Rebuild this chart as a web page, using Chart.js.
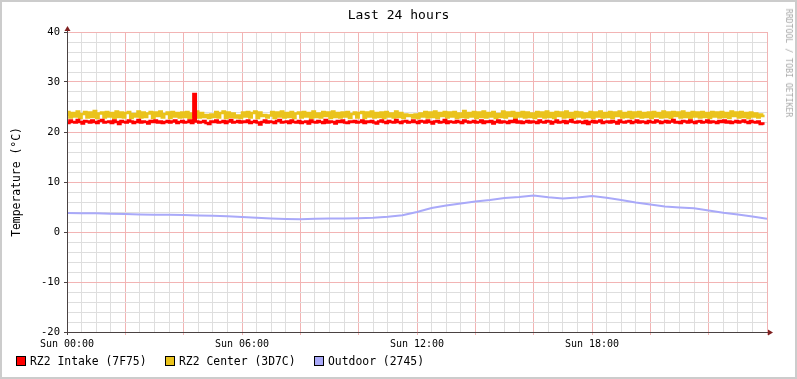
<!DOCTYPE html>
<html>
<head>
<meta charset="utf-8">
<script src="https://cdn.jsdelivr.net/npm/chart.js@4/dist/chart.umd.min.js"></script>
<style>
html,body{margin:0;padding:0;background:#fff;}
#wrap{position:relative;width:797px;height:379px;overflow:hidden;background:#fff;font-family:'DejaVu Sans Mono',monospace;}
#frame{position:absolute;left:0;top:0;width:797px;height:379px;box-sizing:border-box;border:2px solid #CCCCCC;pointer-events:none;}
#c{position:absolute;left:0;top:0;}
.t{position:absolute;white-space:nowrap;color:#000;}
#title{left:0;width:797px;top:7px;text-align:center;font-size:13px;}
#ytitle{left:16px;top:182px;font-size:11.4px;transform:translate(-50%,-50%) rotate(-90deg);}
#wm{left:789px;top:63px;font-size:8.2px;color:#A8A8A8;transform:translate(-50%,-50%) rotate(90deg);}
.sw{position:absolute;width:8px;height:8px;border:1px solid #000;top:356px;}
.lg{position:absolute;top:354px;font-size:11.4px;line-height:14px;}
</style>
</head>
<body>
<div id="wrap">
<canvas id="c" width="797" height="379"></canvas>
<div class="t" id="title">Last 24 hours</div>
<div class="t" id="ytitle">Temperature (°C)</div>
<div class="t" id="wm">RRDTOOL / TOBI OETIKER</div>
<div id="legend"></div>
<div id="frame"></div>
</div>
<script>
// Series names
const seriesNames = ['RZ2 Intake (7F75)', 'RZ2 Center (3D7C)', 'Outdoor (2745)'];
const seriesColors = ['#FF0000', '#EAC31C', '#A9A9F9'];

// 5-minute samples over 24 h (288 values)
const intake = [
22.1,21.8,22.3,22.0,21.9,22.4,22.0,21.7,22.2,22.1,21.9,22.3,22.0,21.8,22.2,22.4,21.9,22.0,22.1,21.8,22.3,22.0,21.6,22.2,
22.0,21.9,22.3,22.1,21.8,22.0,22.4,21.9,22.1,22.0,21.7,22.2,22.0,22.3,21.9,22.1,21.8,22.0,22.2,21.9,22.1,22.3,21.8,22.0,
22.2,21.9,22.0,22.3,21.8,27.6,22.1,21.9,22.0,22.2,21.8,21.6,22.1,22.0,22.3,21.9,22.0,22.2,21.8,22.1,22.4,21.9,22.0,22.2,
21.9,22.1,22.0,22.3,21.8,22.0,22.2,21.9,21.5,22.0,22.3,21.9,22.1,22.0,21.8,22.2,22.4,21.9,22.0,22.1,21.8,22.3,22.0,21.9,
22.2,21.8,22.0,22.1,21.7,22.3,22.0,21.9,22.2,22.0,21.8,22.4,21.9,22.1,22.0,21.7,22.2,22.0,22.3,21.9,21.8,22.1,22.0,22.2,
21.9,22.0,22.3,21.8,22.1,22.0,22.2,21.9,21.7,22.1,22.3,22.0,21.8,22.2,22.0,21.9,22.4,22.0,21.8,22.1,22.2,21.9,22.0,22.3,
22.0,21.8,22.2,22.1,21.9,22.3,22.0,21.7,22.1,22.2,21.9,22.0,22.4,21.8,22.1,22.0,21.9,22.2,22.0,21.8,22.3,22.1,21.9,22.0,
22.2,21.9,22.0,22.3,21.8,22.1,22.0,22.2,21.7,22.0,22.3,21.9,22.1,22.0,21.8,22.2,22.0,22.4,21.9,22.1,21.8,22.0,22.2,21.9,
22.1,22.0,21.8,22.3,22.0,21.9,22.2,22.1,21.7,22.0,22.3,21.9,22.0,22.2,21.8,22.1,22.4,22.0,21.9,22.1,22.0,21.8,22.2,21.6,
22.0,22.2,21.9,22.1,22.3,21.8,22.0,22.1,21.9,22.2,22.0,21.7,22.3,22.0,21.9,22.1,22.2,21.8,22.0,22.3,21.9,22.1,22.0,21.8,
22.2,22.0,21.9,22.3,22.1,21.8,22.0,22.2,21.9,22.1,22.4,21.9,22.0,21.8,22.2,22.1,21.9,22.3,22.0,21.8,22.1,22.2,21.9,22.0,
22.3,21.9,22.1,22.0,21.8,22.2,22.0,22.3,21.9,22.1,21.8,22.0,22.2,21.9,22.1,22.3,22.0,21.8,22.2,22.0,21.9,22.1,21.6,21.7
];
const center = [
23.2,24.0,22.9,23.8,23.1,24.1,22.8,23.6,24.0,22.9,23.9,23.0,24.2,22.8,23.7,23.9,22.9,24.0,23.1,23.8,22.8,24.1,23.0,23.9,
22.9,23.8,24.0,22.8,23.6,23.1,24.1,22.9,23.9,23.0,23.7,24.0,22.8,23.9,23.2,24.1,22.9,23.6,23.9,22.8,24.0,23.1,23.8,22.9,
23.9,23.0,24.0,22.8,23.7,23.1,24.1,22.9,23.8,23.0,23.4,22.8,23.5,23.0,24.0,22.9,23.8,24.1,22.8,23.9,23.0,23.7,22.9,23.3,
22.8,23.9,23.1,24.0,22.9,23.8,24.1,22.8,23.9,23.2,23.4,22.9,23.3,24.0,22.8,23.9,23.1,24.1,22.9,23.8,23.0,24.0,22.8,23.7,
23.9,22.9,24.0,23.1,23.8,22.8,24.1,23.0,23.7,22.9,24.0,23.2,23.9,22.8,24.1,23.0,23.8,22.9,23.9,23.1,24.0,22.8,23.6,23.9,
22.9,23.8,24.0,22.8,23.9,23.1,24.1,22.9,23.8,23.0,23.9,22.8,24.0,23.1,23.7,22.9,24.1,23.0,23.8,22.8,23.5,23.2,23.4,22.9,
23.5,22.8,23.7,23.1,24.0,22.9,23.9,23.0,24.1,22.8,23.8,23.2,24.0,22.9,23.9,23.1,24.0,22.8,23.7,23.0,24.2,22.9,23.8,23.1,
24.0,22.8,23.9,23.0,24.1,22.9,23.8,23.1,24.0,22.8,23.6,23.0,24.1,22.9,23.9,23.2,24.0,22.8,23.8,23.1,24.0,22.9,23.9,23.0,
23.7,22.8,24.0,23.1,23.9,22.9,24.1,23.0,23.8,22.8,24.0,23.2,23.9,22.9,24.1,23.0,23.8,22.8,24.0,23.1,23.9,22.9,23.7,23.0,
24.0,22.8,23.9,23.1,24.1,22.9,23.8,23.0,24.0,22.8,23.9,23.2,24.1,22.9,23.8,23.0,24.0,22.8,23.9,23.1,24.0,22.9,23.8,23.0,
23.9,22.8,24.0,23.1,23.8,22.9,24.1,23.0,23.9,22.8,24.0,23.2,23.9,22.9,24.1,23.0,23.8,22.8,24.0,23.1,23.9,22.9,24.0,23.0,
23.8,22.8,24.0,23.1,23.9,22.9,24.0,23.0,23.8,22.8,24.1,23.2,23.9,22.9,24.0,23.0,23.8,22.8,23.9,23.1,23.7,22.9,23.5,23.2
];
// 30-minute samples over 24 h (49 values)
const outdoor = [
3.8,3.75,3.75,3.65,3.6,3.5,3.45,3.45,3.4,3.3,3.25,3.15,
3.0,2.85,2.7,2.6,2.55,2.65,2.7,2.7,2.75,2.85,3.05,3.35,
4.0,4.8,5.3,5.7,6.1,6.4,6.8,7.0,7.3,6.95,6.7,6.9,
7.2,6.85,6.4,5.9,5.5,5.1,4.9,4.75,4.3,3.85,3.5,3.1,2.65
];
// Axis ticks
const yLabelValues = [-20,-10,0,10,20,30,40];
const xLabelHours = [0,6,12,18];
const xLabelTexts = ['Sun 00:00','Sun 06:00','Sun 12:00','Sun 18:00'];

const intakeStep = 24/288, outdoorStep = 0.5;
const MAJOR = '#F2B4B4', MINOR = '#DEDEDE', AXIS = '#4A4242', ARROW = '#7F1F1F';

// legend
const lgPos = [[16,30],[165,179],[314,328]];
const lg = document.getElementById('legend');
seriesNames.forEach((n,i)=>{
  const s=document.createElement('div'); s.className='sw'; s.style.left=lgPos[i][0]+'px'; s.style.background=seriesColors[i]; lg.appendChild(s);
  const t=document.createElement('div'); t.className='t lg'; t.style.left=lgPos[i][1]+'px'; t.textContent=n; lg.appendChild(t);
});

const axisPlugin = {
  id:'axisPlugin',
  afterDatasetsDraw(chart){
    const {ctx, chartArea:a} = chart;
    ctx.save();
    ctx.strokeStyle = AXIS; ctx.lineWidth = 1;
    ctx.beginPath();
    ctx.moveTo(a.left-3, a.bottom+0.5); ctx.lineTo(a.right+4, a.bottom+0.5);
    ctx.moveTo(a.left+0.5, a.bottom+3); ctx.lineTo(a.left+0.5, a.top-4);
    ctx.stroke();
    ctx.fillStyle = ARROW;
    ctx.beginPath();
    ctx.moveTo(a.left+0.5, a.top-6); ctx.lineTo(a.left-2.5, a.top-1); ctx.lineTo(a.left+3.5, a.top-1); ctx.closePath(); ctx.fill();
    ctx.beginPath();
    ctx.moveTo(a.right+6, a.bottom+0.5); ctx.lineTo(a.right+1, a.bottom-2.5); ctx.lineTo(a.right+1, a.bottom+3.5); ctx.closePath(); ctx.fill();
    ctx.restore();
  }
};

new Chart(document.getElementById('c'), {
  type:'line',
  data:{
    datasets:[
      {label:seriesNames[0], data:intake.map((v,i)=>({x:i*intakeStep,y:v})), borderColor:seriesColors[0], borderWidth:2.5, stepped:'after', pointRadius:0},
      {label:seriesNames[1], data:center.map((v,i)=>({x:i*intakeStep,y:v})), borderColor:seriesColors[1], borderWidth:2.5, stepped:'after', pointRadius:0},
      {label:seriesNames[2], data:outdoor.map((v,i)=>({x:i*outdoorStep,y:v})), borderColor:seriesColors[2], borderWidth:2, pointRadius:0, tension:0}
    ]
  },
  options:{
    responsive:false, animation:false, devicePixelRatio:1,
    layout:{padding:{left:0,right:30,top:32,bottom:0}},
    plugins:{legend:{display:false}, title:{display:false}, tooltip:{enabled:false}},
    scales:{
      x:{type:'linear', min:0, max:24,
        afterFit(s){s.height=47;},
        border:{display:false},
        grid:{color:c=>(Math.abs(c.tick.value%2)<1e-6?MAJOR:MINOR), drawTicks:true, tickLength:3,
              tickColor:c=>(Math.abs(c.tick.value%2)<1e-6?MAJOR:'rgba(0,0,0,0)')},
        ticks:{stepSize:0.5, autoSkip:false, maxRotation:0, minRotation:0, padding:3, color:'#000',
          font:{family:'DejaVu Sans Mono', size:10},
          callback:v=>{const k=xLabelHours.indexOf(v); return k>=0?xLabelTexts[k]:'';}}
      },
      y:{type:'linear', min:-20, max:40,
        afterFit(s){s.width=67;},
        border:{display:false},
        grid:{color:c=>(Math.abs(c.tick.value%10)<1e-6?MAJOR:MINOR), drawTicks:true, tickLength:3,
              tickColor:c=>(Math.abs(c.tick.value%10)<1e-6?AXIS:'rgba(0,0,0,0)')},
        ticks:{stepSize:2, autoSkip:false, padding:4, color:'#000',
          font:{family:'DejaVu Sans Mono', size:10.5},
          callback:v=>(yLabelValues.includes(v)?String(v):'')}
      }
    }
  },
  plugins:[axisPlugin]
});
</script>
</body>
</html>
